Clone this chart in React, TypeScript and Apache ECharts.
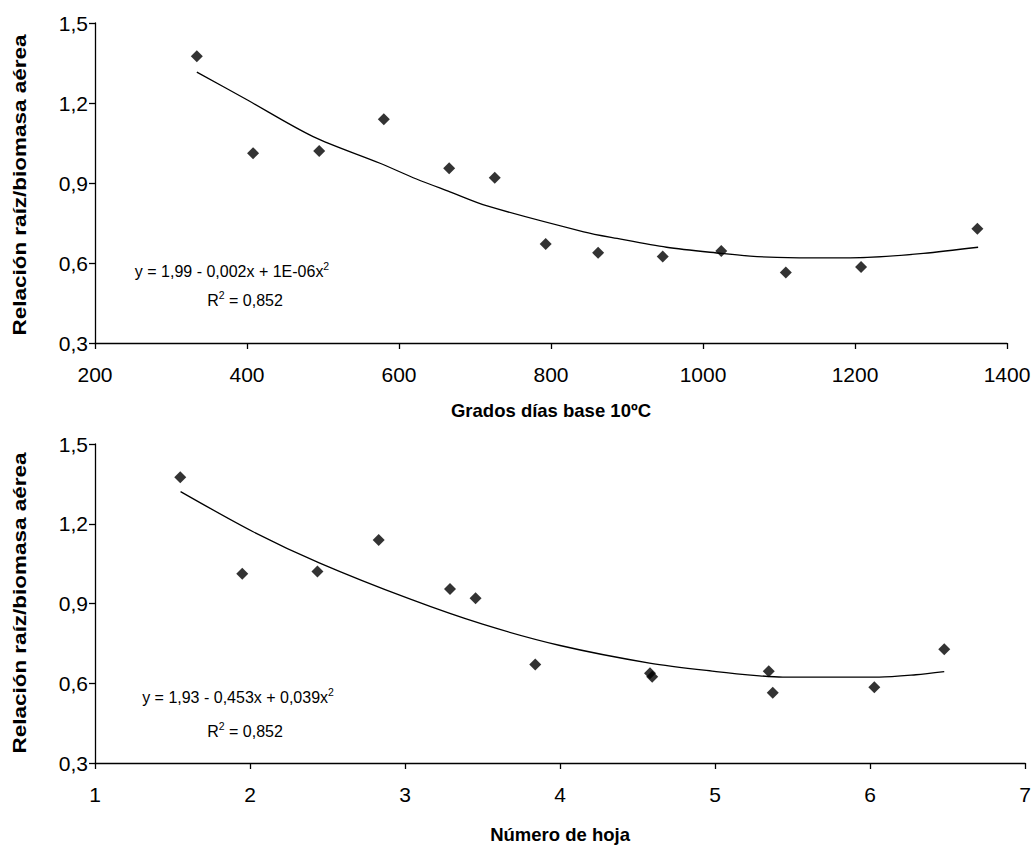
import React, { useEffect, useRef } from "react";
import * as echarts from "echarts";

const gddX = [334, 408, 495, 580, 666, 726, 793, 862, 947, 1024, 1109, 1208, 1361];
const leafX = [1.55, 1.95, 2.435, 2.83, 3.29, 3.455, 3.84, 4.58, 4.594, 5.346, 5.372, 6.027, 6.478];
const ratio = [1.375, 1.012, 1.02, 1.139, 0.955, 0.92, 0.671, 0.638, 0.624, 0.645, 0.564, 0.585, 0.728];

// Trend curves as drawn in the reference
const trendGddX = [334, 400, 487, 575, 623, 667, 716, 843, 887, 952, 1024, 1062, 1097, 1160, 1216, 1290, 1362];
const trendGddY = [1.316, 1.212, 1.074, 0.974, 0.915, 0.867, 0.814, 0.717, 0.692, 0.659, 0.636, 0.626, 0.621, 0.619, 0.621, 0.636, 0.659];
const trendLeafX = [1.552, 2.02, 2.45, 3.03, 3.5, 4.0, 4.577, 5.007, 5.286, 5.436, 6.059, 6.295, 6.478];
const trendLeafY = [1.321, 1.17, 1.052, 0.917, 0.822, 0.742, 0.676, 0.644, 0.628, 0.623, 0.623, 0.632, 0.644];

const eqTop = "y = 1,99 - 0,002x + 1E-06x";
const eqBottom = "y = 1,93 - 0,453x + 0,039x";
const r2Value = " = 0,852";
const yName = "Relación raíz/biomasa aérea";
const xNameTop = "Grados días base 10ºC";
const xNameBottom = "Número de hoja";

const FONT = "Liberation Sans, Arial, sans-serif";

export default function App() {
  const ref = useRef<HTMLDivElement>(null);
  useEffect(() => {
    document.body.style.margin = "0";
    const chart = echarts.init(ref.current!, null, { renderer: "svg" });
    const fmtY = (v: number) => v.toFixed(1).replace(".", ",");
    const fmtX = (v: number) => String(v);
    const axisCommon = {
      axisLine: { show: true, onZero: false, lineStyle: { color: "#000", width: 1.3 } },
      axisTick: { show: true, inside: false, length: 6, lineStyle: { color: "#000", width: 1.3 } },
      splitLine: { show: false },
      axisLabel: { color: "#000", fontSize: 21, fontFamily: FONT },
      nameTextStyle: { color: "#000", fontSize: 18.5, fontWeight: "bold" as const, fontFamily: FONT },
    };
    const yAxis = (gi: number) => ({
      ...axisCommon,
      type: "value" as const,
      gridIndex: gi,
      min: 0.3,
      max: 1.5,
      interval: 0.3,
      axisLabel: { ...axisCommon.axisLabel, margin: 7, formatter: fmtY },
    });
    const eq = (main: string, x: number, y: number) => ({
      type: "text",
      x,
      y,
      style: {
        text: `{m|${main}}{s|2}`,
        rich: {
          m: { fontSize: 16, fontFamily: FONT, fill: "#000" },
          s: { fontSize: 10.5, fontFamily: FONT, fill: "#000", padding: [0, 0, 11, 0] },
        },
        textAlign: "center",
        textVerticalAlign: "middle",
      },
    });
    const r2 = (x: number, y: number) => ({
      type: "text",
      x,
      y,
      style: {
        text: `{m|R}{s|2}{m|${r2Value}}`,
        rich: {
          m: { fontSize: 16, fontFamily: FONT, fill: "#000" },
          s: { fontSize: 10.5, fontFamily: FONT, fill: "#000", padding: [0, 0, 11, 0] },
        },
        textAlign: "center",
        textVerticalAlign: "middle",
      },
    });
    const yTitle = (cy: number) => ({
      type: "text",
      x: 20,
      y: cy,
      rotation: Math.PI / 2,
      scaleX: 1.25,
      style: {
        text: yName,
        font: `bold 18px ${FONT}`,
        fill: "#000",
        textAlign: "center",
        textVerticalAlign: "middle",
      },
    });
    chart.setOption({
      animation: false,
      backgroundColor: "#fff",
      grid: [
        { left: 95, top: 23, width: 912, height: 320 },
        { left: 95, top: 444, width: 931, height: 319 },
      ],
      xAxis: [
        {
          ...axisCommon,
          type: "value",
          gridIndex: 0,
          min: 200,
          max: 1400,
          interval: 200,
          name: xNameTop,
          nameLocation: "middle",
          nameGap: 58,
          axisLabel: { ...axisCommon.axisLabel, margin: 21, formatter: fmtX },
        },
        {
          ...axisCommon,
          type: "value",
          gridIndex: 1,
          min: 1,
          max: 7,
          interval: 1,
          name: xNameBottom,
          nameLocation: "middle",
          nameGap: 62,
          axisLabel: { ...axisCommon.axisLabel, margin: 21, formatter: fmtX },
        },
      ],
      yAxis: [yAxis(0), yAxis(1)],
      series: [
        {
          type: "scatter",
          xAxisIndex: 0,
          yAxisIndex: 0,
          symbol: "diamond",
          symbolSize: [12, 12],
          itemStyle: { color: "#000" },
          data: gddX.map((x, i) => [x, ratio[i]]),
          z: 3,
        },
        {
          type: "line",
          xAxisIndex: 0,
          yAxisIndex: 0,
          smooth: 0.3,
          showSymbol: false,
          lineStyle: { color: "#000", width: 1.3 },
          data: trendGddX.map((x, i) => [x, trendGddY[i]]),
        },
        {
          type: "scatter",
          xAxisIndex: 1,
          yAxisIndex: 1,
          symbol: "diamond",
          symbolSize: [12, 12],
          itemStyle: { color: "#000" },
          data: leafX.map((x, i) => [x, ratio[i]]),
          z: 3,
        },
        {
          type: "line",
          xAxisIndex: 1,
          yAxisIndex: 1,
          smooth: 0.3,
          showSymbol: false,
          lineStyle: { color: "#000", width: 1.3 },
          data: trendLeafX.map((x, i) => [x, trendLeafY[i]]),
        },
      ],
      graphic: [
        yTitle(185),
        yTitle(603),
        eq(eqTop, 232, 271),
        r2(245, 300),
        eq(eqBottom, 238, 697),
        r2(245, 731),
      ],
    });
    return () => chart.dispose();
  }, []);
  return <div ref={ref} style={{ width: 1034, height: 847 }} />;
}
